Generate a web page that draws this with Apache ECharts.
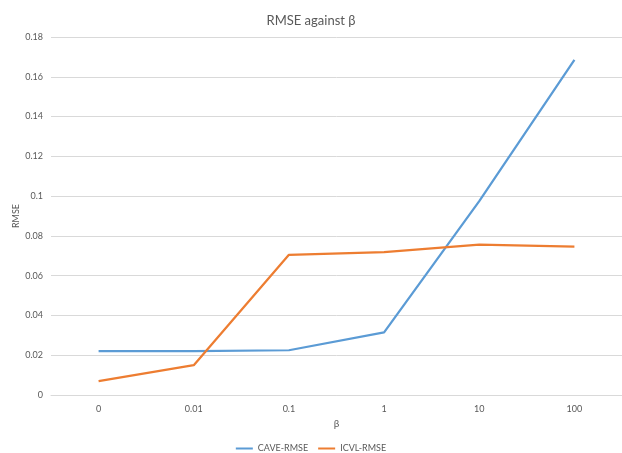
<!DOCTYPE html>
<html>
<head>
<meta charset="utf-8">
<script src="https://cdn.jsdelivr.net/npm/echarts@6/dist/echarts.min.js"></script>
<style>
  html, body { margin: 0; padding: 0; background: #ffffff; }
  #chart { width: 622px; height: 453px; }
</style>
</head>
<body>
<div id="chart"></div>
<script>
// β values on the category axis
const betaLabels = ['0', '0.01', '0.1', '1', '10', '100'];
// RMSE per β for each dataset
const caveRmse = [0.0221, 0.0221, 0.0225, 0.0315, 0.0975, 0.1685];
const icvlRmse = [0.0070, 0.0150, 0.0705, 0.0718, 0.0756, 0.0746];
// y-axis range
const yMin = 0, yMax = 0.18, yStep = 0.02;

const textColor = '#595959';
const gridColor = '#d9d9d9';
const fontFamily = 'Lato, "Open Sans", sans-serif';

const chart = echarts.init(document.getElementById('chart'), null, { renderer: 'canvas' });
chart.setOption({
  animation: false,
  backgroundColor: '#ffffff',
  textStyle: { fontFamily: fontFamily },
  title: {
    text: 'RMSE against β',
    left: 'center',
    top: 9,
    textStyle: { fontSize: 13, fontWeight: 'normal', color: textColor, fontFamily: fontFamily }
  },
  legend: {
    bottom: 0,
    left: 'center',
    padding: 0,
    itemGap: 10,
    itemWidth: 17,
    itemHeight: 2,
    icon: 'rect',
    textStyle: { fontSize: 9, color: textColor, fontFamily: fontFamily },
    data: ['CAVE-RMSE', 'ICVL-RMSE']
  },
  grid: { left: 51, right: 0, top: 37, bottom: 58, containLabel: false, outerBoundsMode: 'none' },
  xAxis: {
    type: 'category',
    data: betaLabels,
    boundaryGap: true,
    name: 'β',
    nameLocation: 'middle',
    nameGap: 24,
    nameMoveOverlap: false,
    nameTextStyle: { fontSize: 10, color: textColor },
    axisLine: { show: true, lineStyle: { color: gridColor, width: 1 } },
    axisTick: { show: false },
    axisLabel: { color: textColor, fontSize: 9, margin: 10 }
  },
  yAxis: {
    type: 'value',
    min: yMin,
    max: yMax,
    interval: yStep,
    name: 'RMSE',
    nameLocation: 'middle',
    nameRotate: 90,
    nameGap: 30,
    nameMoveOverlap: false,
    nameTextStyle: { fontSize: 9, color: textColor },
    axisLine: { show: false },
    axisTick: { show: false },
    axisLabel: {
      color: textColor, fontSize: 9, margin: 8,
      formatter: function (v) { return String(parseFloat(v.toFixed(4))); }
    },
    splitLine: { lineStyle: { color: gridColor, width: 1 } }
  },
  series: [
    {
      name: 'CAVE-RMSE',
      type: 'line',
      data: caveRmse,
      symbol: 'none',
      lineStyle: { color: '#5b9bd5', width: 2.25 },
      itemStyle: { color: '#5b9bd5' }
    },
    {
      name: 'ICVL-RMSE',
      type: 'line',
      data: icvlRmse,
      symbol: 'none',
      lineStyle: { color: '#ed7d31', width: 2.25 },
      itemStyle: { color: '#ed7d31' }
    }
  ]
});
</script>
</body>
</html>
